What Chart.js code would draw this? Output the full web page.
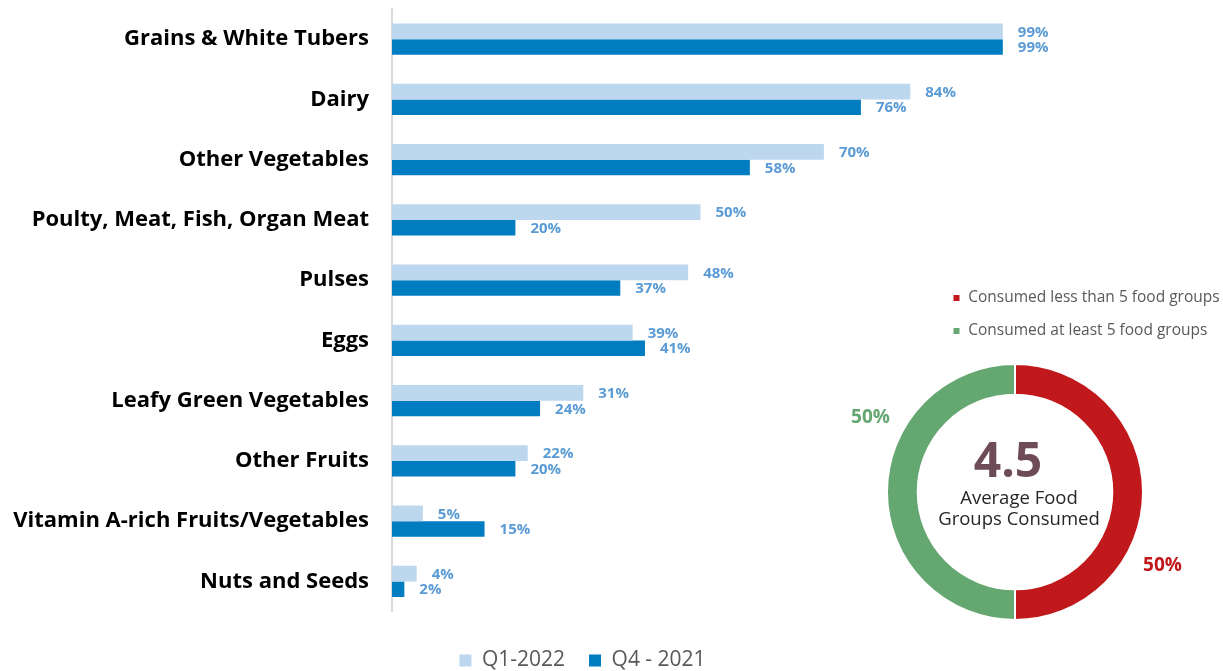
<!DOCTYPE html>
<html>
<head>
<meta charset="utf-8">
<script src="https://cdn.jsdelivr.net/npm/chart.js@4.4.1/dist/chart.umd.min.js"></script>
<style>
  html, body { margin: 0; padding: 0; background: #ffffff; overflow: hidden; }
  #wrap { position: relative; width: 1223px; height: 671px; overflow: hidden; }
  #bars { position: absolute; left: 0; top: 0; }
  #donut { position: absolute; left: 840px; top: 260px; }
</style>
</head>
<body>
<div id="wrap">
  <canvas id="bars" width="1223" height="681"></canvas>
  <canvas id="donut" width="383" height="411"></canvas>
</div>
<script>
// ---- data ----
const categories = [
  'Grains & White Tubers',
  'Dairy',
  'Other Vegetables',
  'Poulty, Meat, Fish, Organ Meat',
  'Pulses',
  'Eggs',
  'Leafy Green Vegetables',
  'Other Fruits',
  'Vitamin A-rich Fruits/Vegetables',
  'Nuts and Seeds'
];
const seriesNames = ['Q1-2022', 'Q4 - 2021'];
const q1_2022 = [99, 84, 70, 50, 48, 39, 31, 22, 5, 4];
const q4_2021 = [99, 76, 58, 20, 37, 41, 24, 20, 15, 2];

const dietLabels = ['Consumed less than 5 food groups', 'Consumed at least 5 food groups'];
const dietValues = [50, 50];
const centerValue = '4.5';
const centerLines = ['Average Food', 'Groups Consumed'];

// ---- styles ----
Chart.defaults.font.family = "'Open Sans', sans-serif";
const LIGHT = '#bdd7ee';
const DARK = '#007cc0';
const LABEL_BLUE = '#5b9bd5';
const RED = '#c0181b';
const GREEN = '#64a771';

const barLabelPlugin = {
  id: 'barLabels',
  beforeDraw(chart) {
    // let the category labels use the full width to the left of the axis
    chart.scales.y.left = 0;
  },
  afterDatasetsDraw(chart) {
    const ctx = chart.ctx;
    ctx.save();
    ctx.font = "bold 15px 'Open Sans', sans-serif";
    ctx.fillStyle = LABEL_BLUE;
    ctx.textAlign = 'left';
    ctx.textBaseline = 'middle';
    chart.data.datasets.forEach((ds, di) => {
      const meta = chart.getDatasetMeta(di);
      meta.data.forEach((el, i) => {
        ctx.fillText(ds.data[i] + '%', el.x + 15, el.y + 1);
      });
    });
    ctx.restore();
  }
};

new Chart(document.getElementById('bars'), {
  type: 'bar',
  data: {
    labels: categories,
    datasets: [
      { label: seriesNames[0], data: q1_2022, backgroundColor: LIGHT,
        categoryPercentage: 0.52, barPercentage: 1.0 },
      { label: seriesNames[1], data: q4_2021, backgroundColor: DARK,
        categoryPercentage: 0.52, barPercentage: 1.0 }
    ]
  },
  options: {
    indexAxis: 'y',
    responsive: false,
    animation: false,
    layout: { padding: { left: 156, right: 214, top: 9, bottom: 0 } },
    scales: {
      x: { display: false, min: 0, max: 100 },
      y: {
        grid: { display: false, drawTicks: false },
        border: { display: true, color: '#d9d9d9', width: 2 },
        ticks: {
          autoSkip: false,
          padding: 23,
          color: '#000000',
          font: { size: 22, weight: 'bold' }
        },
        afterFit(scale) {
          scale.width = 236;
          scale.paddingTop = 0;
          scale.paddingBottom = 0;
        }
      }
    },
    plugins: {
      tooltip: { enabled: false },
      legend: {
        position: 'bottom',
        title: { display: true, text: ' ', font: { size: 10 }, padding: { top: 0, bottom: 2.5 } },
        labels: {
          boxWidth: 12, boxHeight: 12, padding: 24,
          color: '#595959',
          font: { size: 21 }
        }
      }
    }
  },
  plugins: [barLabelPlugin]
});

const donutPlugin = {
  id: 'donutText',
  beforeDraw(chart) {
    // let the legend text run to the right edge of the canvas
    chart.legend.right = chart.width;
    chart.legend.width = chart.legend.right - chart.legend.left;
  },
  afterDatasetsDraw(chart) {
    const ctx = chart.ctx;
    const meta = chart.getDatasetMeta(0);
    const colors = chart.data.datasets[0].backgroundColor;
    ctx.save();
    ctx.textAlign = 'center';
    ctx.textBaseline = 'middle';
    ctx.font = "bold 19px 'Open Sans', sans-serif";
    meta.data.forEach((el, i) => {
      const p = el.getProps(['x', 'y', 'startAngle', 'endAngle', 'outerRadius'], true);
      const a = (p.startAngle + p.endAngle) / 2 + 0.465;
      const r = p.outerRadius + 37;
      ctx.fillStyle = colors[i];
      const dx = i === 1 ? 3 : 0;
      ctx.fillText(chart.data.datasets[0].data[i] + '%', p.x + Math.cos(a) * r + dx, p.y + Math.sin(a) * r);
    });
    const c = meta.data[0];
    ctx.fillStyle = '#6d4b57';
    ctx.font = "bold 48px 'Open Sans', sans-serif";
    ctx.fillText(centerValue, c.x - 7, c.y - 29);
    ctx.fillStyle = '#262626';
    ctx.font = "18.5px 'Open Sans', sans-serif";
    ctx.fillText(centerLines[0], c.x + 4, c.y + 7);
    ctx.fillText(centerLines[1], c.x + 4, c.y + 28);
    ctx.restore();
  }
};

new Chart(document.getElementById('donut'), {
  type: 'doughnut',
  data: {
    labels: dietLabels,
    datasets: [{
      data: dietValues,
      backgroundColor: [RED, GREEN],
      borderColor: '#ffffff',
      borderWidth: 2,
      radius: 128,
      cutout: '76%',
      clip: false
    }]
  },
  options: {
    responsive: false,
    animation: false,
    layout: { padding: { left: 95, right: 128, top: 12.75, bottom: 35.75 } },
    plugins: {
      tooltip: { enabled: false },
      legend: {
        position: 'top',
        align: 'start',
        labels: {
          boxWidth: 8, boxHeight: 8, padding: 17.5,
          color: '#595959',
          font: { size: 15.5 }
        }
      }
    }
  },
  plugins: [donutPlugin]
});
</script>
</body>
</html>
